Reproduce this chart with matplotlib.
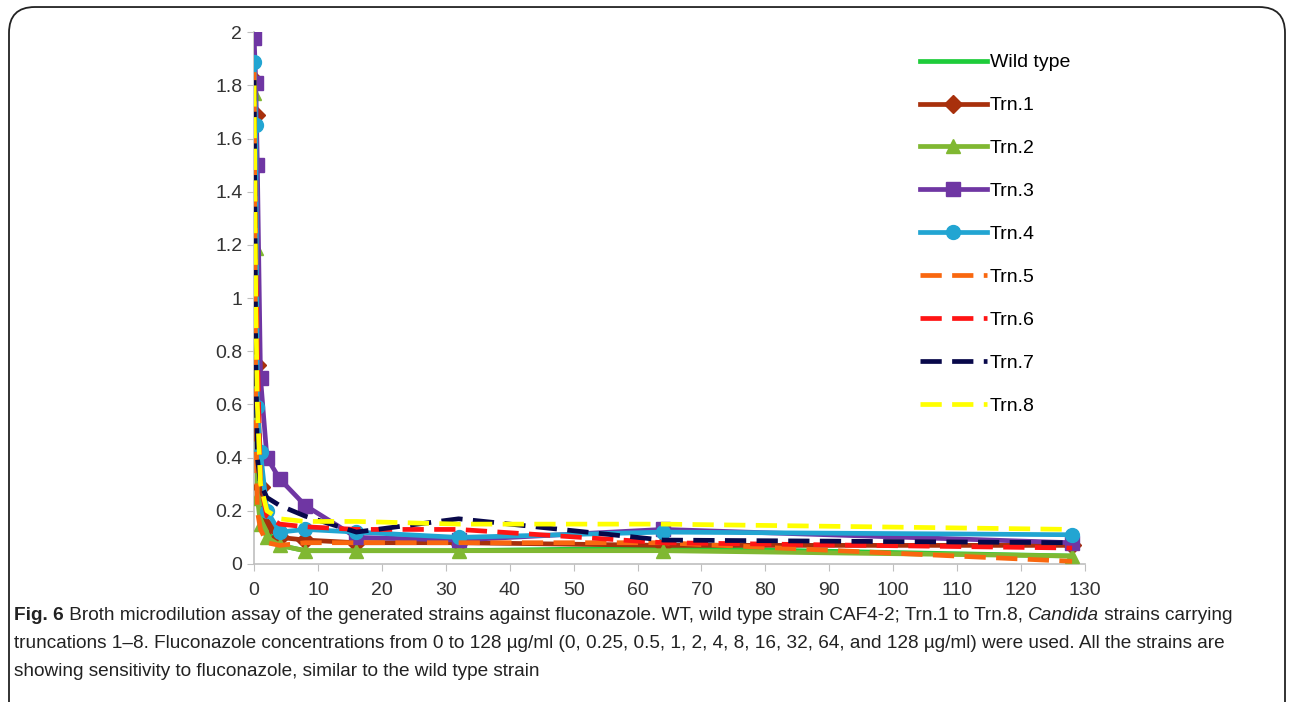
import matplotlib
matplotlib.use("Agg")
import matplotlib.pyplot as plt
from matplotlib import font_manager
from matplotlib.patches import FancyBboxPatch

# fluconazole concentration (ug/ml)
conc = [0, 0.25, 0.5, 1, 2, 4, 8, 16, 32, 64, 128]

wild_type = [1.80, 1.20, 0.50, 0.25, 0.12, 0.07, 0.05, 0.05, 0.05, 0.06, 0.03]
trn1 = [1.82, 1.69, 0.75, 0.29, 0.14, 0.10, 0.09, 0.08, 0.08, 0.07, 0.07]
trn2 = [1.77, 1.19, 0.25, 0.15, 0.10, 0.07, 0.05, 0.05, 0.05, 0.05, 0.03]
trn3 = [1.98, 1.81, 1.50, 0.70, 0.40, 0.32, 0.22, 0.10, 0.09, 0.13, 0.08]
trn4 = [1.89, 1.65, 0.59, 0.42, 0.20, 0.12, 0.13, 0.12, 0.10, 0.12, 0.11]
trn5 = [1.85, 0.60, 0.20, 0.13, 0.08, 0.07, 0.08, 0.08, 0.08, 0.08, 0.01]
trn6 = [1.80, 1.20, 0.80, 0.30, 0.18, 0.15, 0.14, 0.13, 0.13, 0.08, 0.06]
trn7 = [1.82, 0.80, 0.40, 0.30, 0.25, 0.22, 0.18, 0.12, 0.17, 0.09, 0.08]
trn8 = [1.80, 1.00, 0.60, 0.30, 0.20, 0.17, 0.16, 0.16, 0.15, 0.15, 0.13]

labels = ["Wild type", "Trn.1", "Trn.2", "Trn.3", "Trn.4", "Trn.5", "Trn.6", "Trn.7", "Trn.8"]
series = [wild_type, trn1, trn2, trn3, trn4, trn5, trn6, trn7, trn8]
colors = ["#1ecc3a", "#a8300c", "#80b832", "#6f36a3", "#22a5d2",
          "#f9670f", "#ff1414", "#08084a", "#ffff00"]
markers = [None, "D", "^", "s", "o", None, None, None, None]
dashed = [False, False, False, False, False, True, True, True, True]

xticks = list(range(0, 131, 10))
yticks = [0, 0.2, 0.4, 0.6, 0.8, 1, 1.2, 1.4, 1.6, 1.8, 2]
ytick_labels = ["0", "0.2", "0.4", "0.6", "0.8", "1", "1.2", "1.4", "1.6", "1.8", "2"]

names = {f.name for f in font_manager.fontManager.ttflist}
cap_font = "Liberation Sans Narrow" if "Liberation Sans Narrow" in names else "Liberation Sans"
plt.rcParams['font.family'] = ['Liberation Sans', 'DejaVu Sans']

fig = plt.figure(figsize=(12.9, 7.02), dpi=100)
ax = fig.add_axes([0.197, 0.1966, 0.644, 0.7574])

for ys, lab, c, m, d in zip(series, labels, colors, markers, dashed):
    if d:
        ax.plot(conc, ys, color=c, lw=3.4, ls=(0, (4.5, 2.2)), label=lab, zorder=3)
    else:
        ax.plot(conc, ys, color=c, lw=3.4, marker=m, ms=10 if m != "D" else 9,
                label=lab, zorder=3)

ax.set_xlim(0, 130)
ax.set_ylim(0, 2)
ax.set_xticks(xticks)
ax.set_yticks(yticks)
ax.set_yticklabels(ytick_labels)
for s in ["top", "right"]:
    ax.spines[s].set_visible(False)
for s in ["left", "bottom"]:
    ax.spines[s].set_color("#bfbfbf")
    ax.spines[s].set_linewidth(1.2)
ax.tick_params(colors="#bfbfbf", labelcolor="#333333", labelsize=14, length=5)
ax.tick_params(axis="x", pad=8)

ax.legend(loc="upper left", bbox_to_anchor=(0.785, 0.985), frameon=False,
          fontsize=14, labelspacing=1.3, handlelength=3.45, handletextpad=0.15,
          borderaxespad=0.3)

# rounded frame around figure
frame = FancyBboxPatch((9 / 1290, -0.05), 1276 / 1290, 1.04, transform=fig.transFigure,
                       boxstyle="round,pad=0,rounding_size=0.02", fill=False,
                       ec="#222222", lw=1.3, mutation_aspect=1290 / 702)
fig.patches.append(frame)

# caption
lines = [
    [("Fig. 6", "bold", "normal"),
     (" Broth microdilution assay of the generated strains against fluconazole. WT, wild type strain CAF4-2; Trn.1 to Trn.8, ", "normal", "normal"),
     ("Candida", "normal", "italic"),
     (" strains carrying", "normal", "normal")],
    [("truncations 1\u20138. Fluconazole concentrations from 0 to 128 \u00b5g/ml (0, 0.25, 0.5, 1, 2, 4, 8, 16, 32, 64, and 128 \u00b5g/ml) were used. All the strains are", "normal", "normal")],
    [("showing sensitivity to fluconazole, similar to the wild type strain", "normal", "normal")],
]
line_y = [615, 643, 671]
fig.canvas.draw()
renderer = fig.canvas.get_renderer()
for parts, ypix in zip(lines, line_y):
    xpix = 14
    for txt, wt, st in parts:
        t = fig.text(xpix / 1290, 1 - ypix / 702, txt, family=[cap_font, 'DejaVu Sans'],
                     fontsize=13.7, fontweight=wt, fontstyle=st, color="#222222",
                     va="center", ha="left")
        bb = t.get_window_extent(renderer=renderer)
        xpix += bb.width

fig.savefig("out.png", dpi=100)
